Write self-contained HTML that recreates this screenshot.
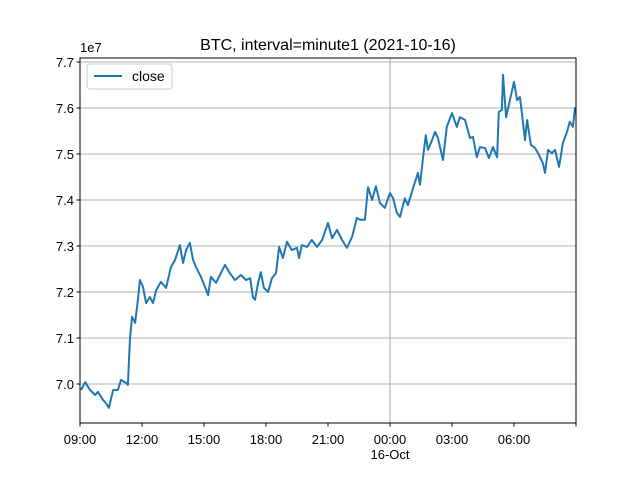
<!DOCTYPE html>
<html><head><meta charset="utf-8"><style>
html,body{margin:0;padding:0;background:#fff}
svg{display:block;font-family:"Liberation Sans","NanumGothic",sans-serif}
</style></head><body>
<svg id="chart" width="640" height="480" viewBox="0 0 640 480" xmlns="http://www.w3.org/2000/svg">
<rect width="640" height="480" fill="#fff"/>
<g id="grid"></g>
<g id="series"></g>
<rect x="80" y="58" width="496" height="365" fill="none" stroke="#000" stroke-width="1"/>
<g id="ticks"></g>
<text x="328" y="50" text-anchor="middle" font-size="16">BTC, interval=minute1 (2021-10-16)</text>
<text x="80" y="52" font-size="13">1e7</text>
<g>
<rect x="87" y="64" width="85" height="25" rx="3" fill="#fff" fill-opacity="0.8" stroke="#ccc"/>
<line x1="94" y1="76" x2="122" y2="76" stroke="#1f77b4" stroke-width="2"/>
<text x="132" y="81" font-size="14">close</text>
</g>
</svg>
<script>
const minutes=[3,15,29,44,52,67,75,84,96,110,119,134,139,145,151,160,168,174,183,192,203,212,221,235,250,264,276,290,299,308,319,328,337,351,363,372,380,395,409,421,435,450,467,482,494,502,508,517,525,534,546,557,569,578,589,601,615,630,636,644,659,673,688,703,720,732,746,761,775,790,804,813,827,836,848,859,871,885,900,909,920,929,943,952,967,981,987,996,1004,1010,1022,1031,1039,1054,1065,1080,1094,1103,1118,1132,1141,1152,1161,1176,1187,1199,1211,1216,1225,1228,1237,1248,1260,1269,1277,1283,1292,1298,1309,1321,1330,1344,1350,1359,1370,1379,1391,1402,1414,1422,1431,1437,1440];
const closeValues=[6.987,7.004,6.987,6.976,6.983,6.965,6.959,6.948,6.987,6.987,7.009,7.002,6.998,7.096,7.146,7.133,7.183,7.226,7.211,7.176,7.189,7.176,7.204,7.222,7.209,7.254,7.270,7.302,7.263,7.291,7.307,7.270,7.254,7.233,7.211,7.193,7.233,7.220,7.241,7.259,7.241,7.226,7.237,7.226,7.230,7.189,7.183,7.220,7.243,7.209,7.200,7.230,7.241,7.298,7.274,7.309,7.291,7.296,7.274,7.302,7.298,7.313,7.298,7.313,7.350,7.317,7.335,7.313,7.296,7.320,7.361,7.357,7.357,7.428,7.400,7.430,7.393,7.383,7.415,7.404,7.372,7.363,7.404,7.389,7.426,7.459,7.433,7.493,7.541,7.509,7.530,7.548,7.535,7.487,7.559,7.589,7.559,7.580,7.574,7.535,7.537,7.493,7.515,7.513,7.491,7.515,7.493,7.591,7.596,7.672,7.580,7.617,7.657,7.617,7.624,7.589,7.530,7.574,7.520,7.513,7.502,7.480,7.459,7.509,7.502,7.509,7.472,7.524,7.548,7.570,7.559,7.600,7.596];
const yTicks=[7.0,7.1,7.2,7.3,7.4,7.5,7.6,7.7];
const xTickMinutes=[0,180,360,540,720,900,1080,1260,1440];
const xTickLabels=["09:00","12:00","15:00","18:00","21:00","00:00","03:00","06:00",""];
const NS="http://www.w3.org/2000/svg";
const X0=80,X1=576,Y0=423,Y1=58,XMAX=1440,YMIN=6.9152,YMAX=7.7087;
function sx(m){return X0+(m/XMAX)*(X1-X0);}
function sy(v){return Y0-(v-YMIN)/(YMAX-YMIN)*(Y0-Y1);}
function mk(t,a,p){const e=document.createElementNS(NS,t);for(const k in a)e.setAttribute(k,a[k]);p.appendChild(e);return e;}
const grid=document.getElementById('grid'),ticks=document.getElementById('ticks'),series=document.getElementById('series');
yTicks.forEach(v=>{const y=sy(v);
 const g=mk('line',{x1:X0,x2:X1,y1:y,y2:y,stroke:'#b0b0b0','stroke-width':1.1},grid);
 
 
 mk('line',{x1:X0-3.5,x2:X0,y1:y,y2:y,stroke:'#000'},ticks);
 const t=mk('text',{x:X0-6,y:y+5,'text-anchor':'end','font-size':13},ticks);t.textContent=v.toFixed(1);
 
 
});
xTickMinutes.forEach((m,i)=>{const x=sx(m);
 if(i===5){const g=mk('line',{x1:x,x2:x,y1:Y1,y2:Y0,stroke:'#b0b0b0','stroke-width':1.1},grid);
  
  }
 mk('line',{x1:x,x2:x,y1:Y0,y2:Y0+3.5,stroke:'#000'},ticks);
 const t=mk('text',{x:x,y:Y0+21,'text-anchor':'middle','font-size':13},ticks);t.textContent=xTickLabels[i];
 
 
});
const dl=mk('text',{x:sx(900),y:Y0+36,'text-anchor':'middle','font-size':13},ticks);dl.textContent='16-Oct';


const pts=minutes.map((m,i)=>sx(m).toFixed(1)+','+sy(closeValues[i]).toFixed(1)).join(' ');
const pl=mk('polyline',{points:pts,fill:'none',stroke:'#1f77b4','stroke-width':2,'stroke-linejoin':'round'},series);


</script>
</body></html>
